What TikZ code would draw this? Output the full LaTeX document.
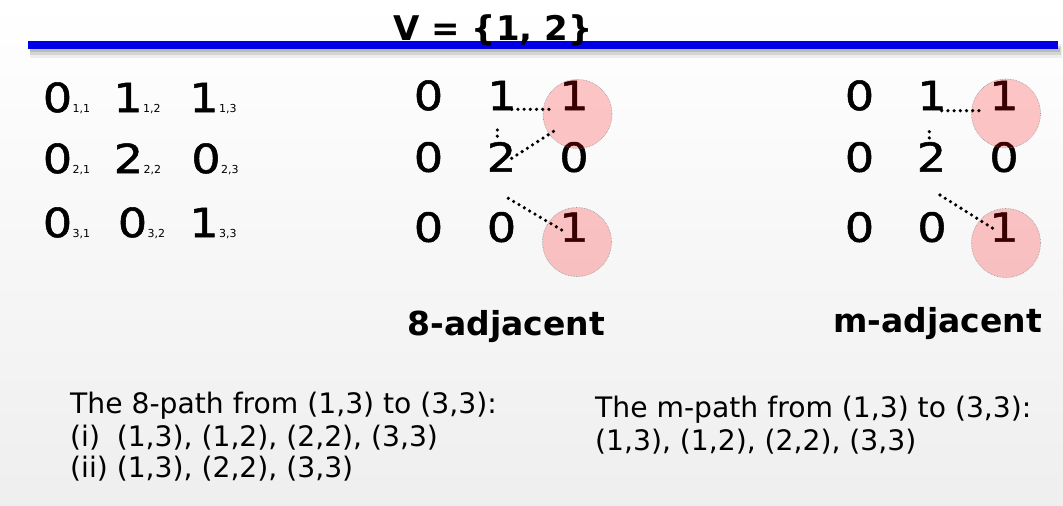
\documentclass[tikz,border=0pt]{standalone}
\usepackage{fontspec}
\setmainfont{DejaVu Sans}
\newfontfamily\digfont{DejaVu Sans}[FakeBold=1.3, FakeStretch=1.15]
\definecolor{barblue}{RGB}{0,0,228}
\begin{document}
\begin{tikzpicture}[x=1pt,y=-1pt,
  dig/.style={font=\digfont\fontsize{40}{48}\selectfont, inner sep=0pt, anchor=base},
  sub/.style={font=\fontsize{11}{13}\selectfont, inner sep=0pt, anchor=base west, xshift=0pt},
  hl/.style={circle, minimum size=69pt, inner sep=0pt, fill=red, fill opacity=0.22,
             draw=gray, draw opacity=0.8, densely dotted, line width=0.6pt},
  dotl/.style={line width=3.6pt, line cap=round, dash pattern=on 0pt off 6.2pt},
  boldlbl/.style={font=\fontsize{33}{40}\selectfont\bfseries, inner sep=0pt, anchor=base},
  body/.style={font=\fontsize{28.2}{34}\selectfont, inner sep=0pt, anchor=base west}
]
\useasboundingbox (0,0) rectangle (1063,506);
\shade[top color=white, bottom color=gray!13] (0,0) rectangle (1063,506);

% title bar with shadow
\fill[black, opacity=0.06] (30,44) rectangle (1062,58);
\fill[black, opacity=0.10] (30,46) rectangle (1061,55);
\fill[black, opacity=0.12] (30,48) rectangle (1060,52);
\fill[barblue] (28,41) rectangle (1058,49);
\node[font=\fontsize{34}{40}\selectfont\bfseries, inner sep=0pt, anchor=base] (title) at (493,40) {V = \{1, 2\}};

% left matrix with indices
\node[dig] (a11) at (57.5,112) {0}; \node[sub] (s11) at (a11.base east) {1,1};
\node[dig] (a12) at (128,112) {1};  \node[sub] (s12) at (a12.base east) {1,2};
\node[dig] (a13) at (204,112) {1};  \node[sub] (s13) at (a13.base east) {1,3};
\node[dig] (a21) at (57.5,173) {0}; \node[sub] (s21) at (a21.base east) {2,1};
\node[dig] (a22) at (128.5,173) {2};\node[sub] (s22) at (a22.base east) {2,2};
\node[dig] (a23) at (206,173) {0};  \node[sub] (s23) at (a23.base east) {2,3};
\node[dig] (a31) at (57.5,237) {0}; \node[sub] (s31) at (a31.base east) {3,1};
\node[dig] (a32) at (132.5,237) {0};\node[sub] (s32) at (a32.base east) {3,2};
\node[dig] (a33) at (204,237) {1};  \node[sub] (s33) at (a33.base east) {3,3};

% middle matrix (8-adjacent)
\node[dig] (b11) at (428.5,110) {0};
\node[dig] (b12) at (502,110) {1};
\node[dig] (b13) at (574,110) {1};
\node[dig] (b21) at (428.5,171.7) {0};
\node[dig] (b22) at (501.5,171.7) {2};
\node[dig] (b23) at (574,171.7) {0};
\node[dig] (b31) at (428.5,241.7) {0};
\node[dig] (b32) at (501.5,241.7) {0};
\node[dig] (b33) at (574,241.7) {1};
\node[hl] (hb13) at (577.5,114) {};
\node[hl] (hb33) at (577,242) {};
\draw[dotl] ([shift={(9.7,-0.7)}]b12.base) -- ([shift={(-19,-0.7)}]b13.base);
\draw[dotl] ([shift={(-4.7,20)}]b12.base) -- ([shift={(-4.2,-31.7)}]b22.base);
\draw[dotl] ([shift={(10.2,-13.4)}]b22.base) -- ([shift={(-15.7,18.3)}]b13.base);
\draw[dotl] ([shift={(6.8,26.6)}]b22.base) -- ([shift={(-12.3,-11.7)}]b33.base);
\node[boldlbl] (lbl8) at (506.5,335) {8-adjacent};

% right matrix (m-adjacent)
\node[dig] (c11) at (859.5,110) {0};
\node[dig] (c12) at (932,110) {1};
\node[dig] (c13) at (1004,110) {1};
\node[dig] (c21) at (859.5,171.7) {0};
\node[dig] (c22) at (931.5,171.7) {2};
\node[dig] (c23) at (1004,171.7) {0};
\node[dig] (c31) at (859.5,241.7) {0};
\node[dig] (c32) at (932,241.7) {0};
\node[dig] (c33) at (1004,241.7) {1};
\node[hl] (hc13) at (1006,113.5) {};
\node[hl] (hc33) at (1006,243) {};
\draw[dotl] ([shift={(9.7,0.7)}]c12.base) -- ([shift={(-19,0.7)}]c13.base);
\draw[dotl] ([shift={(-2.7,21.7)}]c12.base) -- ([shift={(-2.2,-30)}]c22.base);
\draw[dotl] ([shift={(8.5,23.3)}]c22.base) -- ([shift={(-11.3,-13.4)}]c33.base);
\node[boldlbl] (lblm) at (937.5,332) {m-adjacent};

% path descriptions
\node[body] (t1) at (70,413) {The 8-path from (1,3) to (3,3):};
\node[body] (t2) at (70,446) {\rlap{(i)}\phantom{(ii) }(1,3), (1,2), (2,2), (3,3)};
\node[body] (t3) at (70,477) {(ii) (1,3), (2,2), (3,3)};
\node[body] (u1) at (595,417) {The m-path from (1,3) to (3,3):};
\node[body] (u2) at (595,450) {(1,3), (1,2), (2,2), (3,3)};
\end{tikzpicture}
\end{document}
